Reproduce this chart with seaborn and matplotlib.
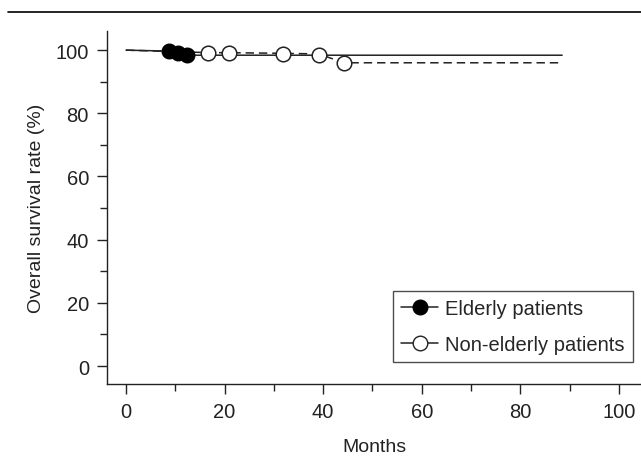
import matplotlib.pyplot as plt
import pandas as pd
import seaborn as sns
from matplotlib.lines import Line2D
from matplotlib.ticker import MultipleLocator

# ------------------------------------------------
# Data
# ------------------------------------------------
elderly_months = [0, 8.7, 10.5, 12.4, 88.5]
elderly_rate = [100, 99.7, 99.2, 98.4, 98.4]
elderly_censor_months = [8.7, 10.5, 12.4]
elderly_censor_rate = [99.7, 99.2, 98.4]

nonelderly_months = [0, 13, 16.6, 20.9, 31.8, 39.1, 44.2, 88.5]
nonelderly_rate = [100, 99.4, 99.2, 99.2, 99.0, 98.8, 96.0, 96.0]
nonelderly_censor_months = [16.6, 20.9, 31.8, 39.1, 44.2]
nonelderly_censor_rate = [99.0, 99.0, 98.9, 98.6, 95.8]

x_ticks = [0, 20, 40, 60, 80, 100]
y_ticks = [0, 20, 40, 60, 80, 100]

sns.set_style("ticks")
plt.rcParams["font.family"] = ["Liberation Sans", "DejaVu Sans"]

df_eld = pd.DataFrame({"months": elderly_months, "rate": elderly_rate})
df_non = pd.DataFrame({"months": nonelderly_months, "rate": nonelderly_rate})
cen_eld = pd.DataFrame({"months": elderly_censor_months, "rate": elderly_censor_rate})
cen_non = pd.DataFrame({"months": nonelderly_censor_months, "rate": nonelderly_censor_rate})

# ------------------------------------------------
# Draw plot
# ------------------------------------------------
fig = plt.figure(figsize=(6.41, 4.60), dpi=100)
ax = fig.add_axes([0.167, 0.163, 0.833, 0.767])

ink = "#222222"
sns.lineplot(data=df_non, x="months", y="rate", ax=ax, color=ink,
             linewidth=1.1, linestyle=(0, (5.5, 3.2)), estimator=None, sort=False)
sns.lineplot(data=df_eld, x="months", y="rate", ax=ax, color=ink,
             linewidth=1.1, estimator=None, sort=False)
sns.scatterplot(data=cen_non, x="months", y="rate", ax=ax, s=110,
                facecolor="white", edgecolor=ink, linewidth=1.1, zorder=4)
sns.scatterplot(data=cen_eld, x="months", y="rate", ax=ax, s=110,
                color="black", edgecolor="black", linewidth=1.0, zorder=5)

ax.set_xlim(-3.85, 104.5)
ax.set_ylim(-5.7, 106)
ax.set_xticks(x_ticks)
ax.set_yticks(y_ticks)
ax.xaxis.set_minor_locator(MultipleLocator(10))
ax.yaxis.set_minor_locator(MultipleLocator(10))
ax.tick_params(which="major", length=7, width=1, color=ink, labelsize=14.5,
               pad=6, labelcolor=ink)
ax.tick_params(which="minor", length=5, width=1, color=ink)
for side in ["left", "bottom"]:
    ax.spines[side].set_linewidth(1)
    ax.spines[side].set_color(ink)
sns.despine(ax=ax)

ax.set_xlabel("Months", fontsize=14, labelpad=12, color=ink)
ax.set_ylabel("Overall survival rate (%)", fontsize=14, labelpad=8, color=ink)

handles = [
    Line2D([], [], color=ink, linewidth=1.1, marker="o", markersize=10.5,
           markerfacecolor="black", markeredgecolor="black"),
    Line2D([], [], color=ink, linewidth=1.1, marker="o", markersize=10.5,
           markerfacecolor="white", markeredgecolor=ink),
]
leg = ax.legend(handles, ["Elderly patients", "Non-elderly patients"],
                loc="lower right", bbox_to_anchor=(0.985, 0.062),
                borderaxespad=0, fontsize=14.5, frameon=True, fancybox=False,
                handlelength=1.85, handletextpad=0.35, borderpad=0.4,
                labelspacing=0.85)
leg.get_frame().set_edgecolor(ink)
leg.get_frame().set_linewidth(1)

# horizontal rule at the top of the figure
fig.add_artist(Line2D([0.012, 1.0], [0.972, 0.972], color="black",
                      linewidth=1.2, transform=fig.transFigure))

fig.savefig("out.png", dpi=100)
